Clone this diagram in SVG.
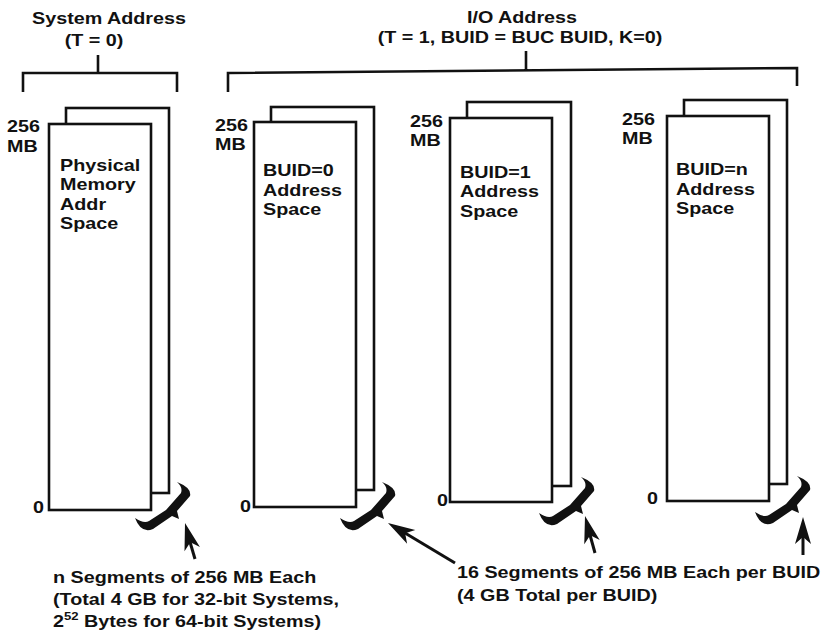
<svg xmlns="http://www.w3.org/2000/svg" xmlns:xlink="http://www.w3.org/1999/xlink" width="825" height="634" viewBox="0 0 825 634">
<style>
text{font-family:"Liberation Sans",Arial,Helvetica,sans-serif;font-weight:bold;font-size:16.6px;fill:#111}
.box{fill:#fff;stroke:#111;stroke-width:2.6}
.br{fill:none;stroke:#111;stroke-width:2.6}
.ln{fill:none;stroke:#111;stroke-width:3}
.blk{fill:#111}
</style>
<defs>
<path id="brace" d="M-1,-36 Q14,-30 12,-22 L-1,-7 L1,1 L-6,-2 L-25,11 Q-37,16 -43,0 Q-34,6 -29,3 L-12,-8 L3,-25 Q5,-31 -1,-36 Z"/>
<path id="head" d="M0,0 L-27,-8 L-20,0 L-27,8 Z"/>
</defs>
<rect width="825" height="634" fill="#fff"/>

<g id="title-system">
<text transform="translate(109,24) scale(1.19,1)" text-anchor="middle">System Address</text>
<text transform="translate(94,46) scale(1.19,1)" text-anchor="middle">(T = 0)</text>
</g>
<g id="title-io">
<text transform="translate(522,23) scale(1.19,1)" text-anchor="middle">I/O Address</text>
<text transform="translate(520,43) scale(1.19,1)" text-anchor="middle">(T = 1, BUID = BUC BUID, K=0)</text>
</g>

<g id="connectors">
<path class="br" d="M23,92 L23,73 L177,73 L177,92 M98,55 L98,73"/>
<path class="br" d="M228,92 L228,73 L797,68 L797,86 M526,51 L526,70.5"/>
<path class="ln" d="M195,559 L190,542"/>
<path class="ln" d="M455,563 L405,533"/>
<path class="ln" d="M595,553 L590,535"/>
<path class="ln" d="M803,555 L803,537"/>
<use xlink:href="#head" class="blk" transform="translate(185,523) rotate(-105.5)"/>
<use xlink:href="#head" class="blk" transform="translate(388,523) rotate(-149.2)"/>
<use xlink:href="#head" class="blk" transform="translate(585,516) rotate(-105)"/>
<use xlink:href="#head" class="blk" transform="translate(803,517) rotate(-90)"/>
</g>

<g id="node-physical">
<rect class="box" x="66" y="108" width="103" height="385"/>
<rect class="box" x="49" y="124" width="102" height="386"/>
<text transform="translate(7,132) scale(1.19,1)">256</text>
<text transform="translate(7,152) scale(1.19,1)">MB</text>
<text transform="translate(33,513) scale(1.19,1)">0</text>
<text transform="translate(60,171) scale(1.19,1)">Physical</text>
<text transform="translate(60,190) scale(1.19,1)">Memory</text>
<text transform="translate(60,210) scale(1.19,1)">Addr</text>
<text transform="translate(60,229) scale(1.19,1)">Space</text>
<use xlink:href="#brace" class="blk" transform="translate(178,518)"/>
</g>

<g id="node-buid0">
<rect class="box" x="271" y="107" width="103" height="383"/>
<rect class="box" x="254" y="122" width="102" height="385"/>
<text transform="translate(215,131) scale(1.19,1)">256</text>
<text transform="translate(215,150) scale(1.19,1)">MB</text>
<text transform="translate(240,512) scale(1.19,1)">0</text>
<text transform="translate(263,176) scale(1.19,1)">BUID=0</text>
<text transform="translate(263,196) scale(1.19,1)">Address</text>
<text transform="translate(263,215) scale(1.19,1)">Space</text>
<use xlink:href="#brace" class="blk" transform="translate(383,518)"/>
</g>

<g id="node-buid1">
<rect class="box" x="467" y="102" width="104" height="384"/>
<rect class="box" x="450" y="118" width="102" height="384"/>
<text transform="translate(410,127) scale(1.19,1)">256</text>
<text transform="translate(410,146) scale(1.19,1)">MB</text>
<text transform="translate(437,506) scale(1.19,1)">0</text>
<text transform="translate(460,178) scale(1.19,1)">BUID=1</text>
<text transform="translate(460,197) scale(1.19,1)">Address</text>
<text transform="translate(460,217) scale(1.19,1)">Space</text>
<use xlink:href="#brace" class="blk" transform="translate(582,513)"/>
</g>

<g id="node-buidn">
<rect class="box" x="684" y="100" width="103" height="384"/>
<rect class="box" x="667" y="116" width="102" height="385"/>
<text transform="translate(622,125) scale(1.19,1)">256</text>
<text transform="translate(622,144) scale(1.19,1)">MB</text>
<text transform="translate(647,504) scale(1.19,1)">0</text>
<text transform="translate(676,175) scale(1.19,1)">BUID=n</text>
<text transform="translate(676,195) scale(1.19,1)">Address</text>
<text transform="translate(676,214) scale(1.19,1)">Space</text>
<use xlink:href="#brace" class="blk" transform="translate(798,512)"/>
</g>

<g id="note-system">
<text transform="translate(53,583) scale(1.19,1)">n Segments of 256 MB Each</text>
<text transform="translate(53,605) scale(1.19,1)">(Total 4 GB for 32-bit Systems,</text>
<text transform="translate(53,627) scale(1.19,1)">2<tspan font-size="11" dy="-7">52</tspan><tspan dy="7"> Bytes for 64-bit Systems)</tspan></text>
</g>
<g id="note-io">
<text transform="translate(457,578) scale(1.19,1)">16 Segments of 256 MB Each per BUID</text>
<text transform="translate(457,601) scale(1.19,1)">(4 GB Total per BUID)</text>
</g>
</svg>
